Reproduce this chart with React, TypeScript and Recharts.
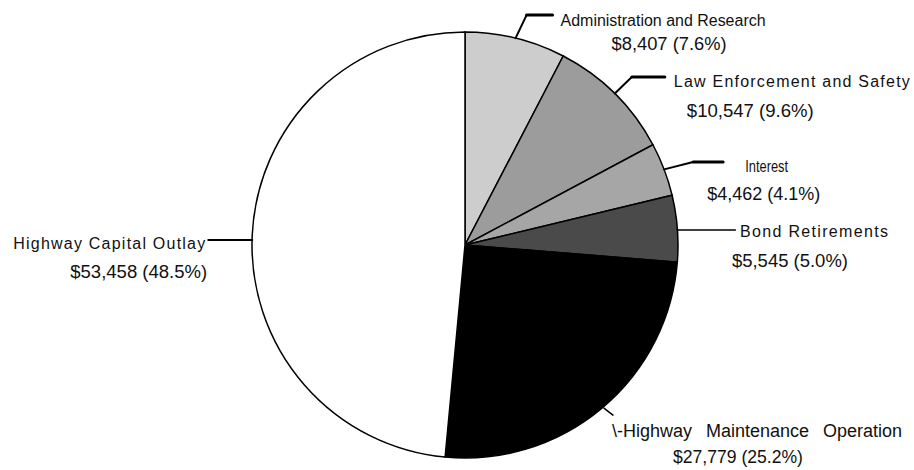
import React from 'react';
import { PieChart, Pie, Cell } from 'recharts';

const categories = [
  'Administration and Research',
  'Law Enforcement and Safety',
  'Interest',
  'Bond Retirements',
  'Highway Maintenance Operation',
  'Highway Capital Outlay',
];
const amounts = [8407, 10547, 4462, 5545, 27779, 53458];
const shares = ['7.6%', '9.6%', '4.1%', '5.0%', '25.2%', '48.5%'];
const nameLabels = [
  'Administration and Research',
  'Law Enforcement and Safety',
  'Interest',
  'Bond Retirements',
  '\\-Highway Maintenance Operation',
  'Highway Capital Outlay',
];

const fills = ['#cdcdcd', '#9c9c9c', '#a6a6a6', '#4a4a4a', '#000000', '#ffffff'];

type Layout = {
  pts: [number, number][];
  widths: number[];
  l1: [number, number];
  l1len?: number;
  l1size: number;
  l1adjust?: 'spacing' | 'spacingAndGlyphs';
  l1word?: number;
  l2: [number, number];
  l2len: number;
  anchor: 'start' | 'end';
};

const layouts: Layout[] = [
  { pts: [[0, 0], [11, -23], [37, -23]], widths: [2, 3], l1: [45, -12], l1len: 205, l1size: 16, l2: [96, 12], l2len: 115, anchor: 'start' },
  { pts: [[0, 0], [17, -16.6], [50, -16.6]], widths: [2, 3], l1: [59, -6.6], l1len: 236, l1size: 16, l1adjust: 'spacing', l2: [72, 23.4], l2len: 127, anchor: 'start' },
  { pts: [[0, 0], [29, -7.4], [59, -7.4]], widths: [2, 3], l1: [81, 2.6], l1len: 43, l1size: 16, l1adjust: 'spacingAndGlyphs', l2: [43, 30.6], l2len: 113, anchor: 'start' },
  { pts: [[0, 1.5], [58, 1.5]], widths: [1.5], l1: [62.6, 8.5], l1len: 148, l1size: 16, l1adjust: 'spacing', l2: [54.6, 38.5], l2len: 116, anchor: 'start' },
  { pts: [[2, 0], [11, 7]], widths: [1.5], l1: [10, 29], l1size: 18, l1word: 9, l2: [71, 55], l2len: 130, anchor: 'start' },
  { pts: [[0, 5], [-44, 5]], widths: [2], l1: [-47, 14], l1len: 192, l1size: 16, l1adjust: 'spacing', l2: [-45, 43], l2len: 137, anchor: 'end' },
];

const data = categories.map((c, i) => ({ name: c, value: amounts[i] }));
const RADIAN = Math.PI / 180;
const FONT = '"Liberation Sans", Arial, Helvetica, sans-serif';

const renderLabel = (props: any) => {
  const { cx, cy, midAngle, outerRadius, index } = props;
  const L = layouts[index];
  const ax = cx + outerRadius * Math.cos(-midAngle * RADIAN);
  const ay = cy + outerRadius * Math.sin(-midAngle * RADIAN);
  const segs = [];
  for (let k = 0; k < L.pts.length - 1; k++) {
    segs.push(
      <line
        key={k}
        x1={ax + L.pts[k][0]}
        y1={ay + L.pts[k][1]}
        x2={ax + L.pts[k + 1][0]}
        y2={ay + L.pts[k + 1][1]}
        stroke="#000"
        strokeWidth={L.widths[k]}
        strokeLinecap="round"
      />
    );
  }
  const valueText = `$${amounts[index].toLocaleString('en-US')} (${shares[index]})`;
  return (
    <g key={`lbl-${index}`}>
      {segs}
      <text
        x={ax + L.l1[0]}
        y={ay + L.l1[1]}
        textAnchor={L.anchor}
        fontFamily={FONT}
        fontSize={L.l1size}
        fill="#111"
        textLength={L.l1len}
        lengthAdjust={L.l1adjust || 'spacingAndGlyphs'}
        style={L.l1word ? { wordSpacing: L.l1word } : undefined}
      >
        {nameLabels[index]}
      </text>
      <text
        x={ax + L.l2[0]}
        y={ay + L.l2[1]}
        textAnchor={L.anchor}
        fontFamily={FONT}
        fontSize={18}
        fill="#111"
        textLength={L.l2len}
        lengthAdjust="spacingAndGlyphs"
      >
        {valueText}
      </text>
    </g>
  );
};

export default function App() {
  return (
    <div style={{ position: 'absolute', left: 0, top: 0, width: 914, height: 470, background: '#fff' }}>
      <PieChart width={914} height={470} margin={{ top: 0, right: 0, bottom: 0, left: 0 }}>
        <Pie
          data={data}
          dataKey="value"
          nameKey="name"
          cx={465}
          cy={245}
          outerRadius={213}
          startAngle={90}
          endAngle={-270}
          stroke="#000"
          strokeWidth={1.5}
          labelLine={false}
          label={renderLabel}
          isAnimationActive={false}
        >
          {data.map((d, i) => (
            <Cell key={d.name} fill={fills[i]} />
          ))}
        </Pie>
      </PieChart>
    </div>
  );
}
